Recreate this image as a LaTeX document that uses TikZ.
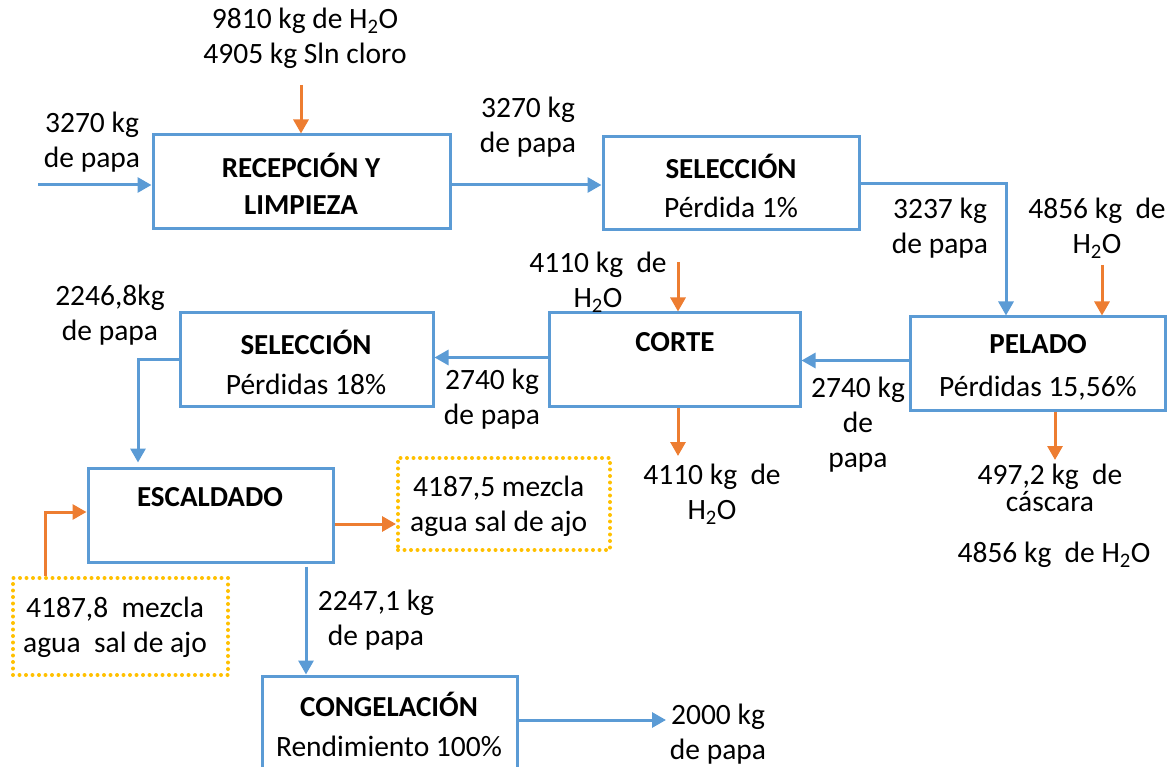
\documentclass[tikz,border=0pt]{standalone}
\usepackage{fontspec}
\setmainfont{Carlito}
\usetikzlibrary{arrows.meta}
\definecolor{cblue}{HTML}{5B9BD5}
\definecolor{corange}{HTML}{ED7D31}
\definecolor{cyellow}{HTML}{FFC000}
\begin{document}
\begin{tikzpicture}[x=1pt,y=-1pt,
  every node/.style={font=\fontsize{29.5}{35}\selectfont, inner sep=0pt},
  box/.style={draw=cblue, line width=3pt, rectangle},
  dotbox/.style={draw=cyellow, line width=4pt, line cap=round, dash pattern=on 0pt off 6.5pt, rectangle},
  lbl/.style={align=center},
  ttl/.style={font=\fontsize{29}{35}\selectfont\bfseries},
  barrow/.style={draw=cblue, line width=3pt, -{Triangle[length=14pt,width=15pt]}},
  oarrow/.style={draw=corange, line width=3pt, -{Triangle[length=14pt,width=15pt]}}]
\useasboundingbox (0,0) rectangle (1173,767);
\begin{scope}
\clip (0,0) rectangle (1173,767);
% boxes
\node[box, minimum width=297pt, minimum height=94pt] (rec) at (301.5,182) {};
\node[box, minimum width=256pt, minimum height=93pt] (sel1) at (731,183.5) {};
\node[box, minimum width=255pt, minimum height=93pt] (pel) at (1037.5,363.5) {};
\node[box, minimum width=251pt, minimum height=93pt] (cor) at (674.5,359.5) {};
\node[box, minimum width=253pt, minimum height=93pt] (sel2) at (306.5,359.5) {};
\node[box, minimum width=245pt, minimum height=94pt] (esc) at (210.5,515) {};
\node[box, minimum width=255pt, minimum height=100pt] (con) at (389.5,726) {};
\node[dotbox, minimum width=212pt, minimum height=92pt] (dot1) at (504,504) {};
\node[dotbox, minimum width=215pt, minimum height=97pt] (dot2) at (120.5,626.5) {};
\end{scope}
% box texts
\node[ttl] (t1) at (301,165) {RECEPCIÓN Y};
\node[ttl] (t2) at (301,205) {LIMPIEZA};
\node[ttl] (t3) at (731,166) {SELECCIÓN};
\node (t4) at (731,207) {Pérdida 1\%};
\node[ttl] (t5) at (1038,344) {PELADO};
\node (t6) at (1038,388) {Pérdidas 15,56\%};
\node[ttl] (t7) at (675,342) {CORTE};
\node[ttl] (t8) at (306,342) {SELECCIÓN};
\node (t9) at (306,384) {Pérdidas 18\%};
\node[ttl] (t10) at (210,497) {ESCALDADO};
\node[ttl] (t11) at (389,704) {CONGELACIÓN};
\node (t12) at (389,746) {Rendimiento 100\%};
\node[lbl, anchor=west] (t13) at (410,506) {4187,5 mezcla\\agua sal de ajo};
\node[lbl, anchor=west] (t14) at (23,627) {4187,8\ \ mezcla\\agua\ \ sal de ajo};
% labels
\node[lbl] (l1) at (305,38) {9810 kg de H\textsubscript{2}O\\4905 kg Sln cloro};
\node[lbl] (l2) at (92,142) {3270 kg\\de papa};
\node[lbl] (l3) at (528,127) {3270 kg\\de papa};
\node[lbl] (l4) at (940,228) {3237 kg\\de papa};
\node[lbl] (l5) at (1097,228) {4856 kg\ \ de\\H\textsubscript{2}O};
\node[lbl] (l6) at (598,282) {4110 kg\ \ de\\H\textsubscript{2}O};
\node[lbl] (l7) at (858,425) {2740 kg\\de\\papa};
\node[lbl] (l8) at (492,399) {2740 kg\\de papa};
\node[lbl] (l9) at (110,315) {2246,8kg\\de papa};
\node[lbl] (l10) at (712,494) {4110 kg\ \ de\\H\textsubscript{2}O};
\node[lbl, font=\fontsize{29.5}{27}\selectfont] (l11) at (1050,488) {497,2 kg\ \ de\\cáscara};
\node (l12) at (1054,555) {4856 kg\ \ de H\textsubscript{2}O};
\node[lbl] (l13) at (376,620) {2247,1 kg\\de papa};
\node[lbl] (l14) at (718,734) {2000 kg\\de papa};
% coordinates
\coordinate (in1) at (38,185);
\coordinate (o1) at (301,85);
\coordinate (o2) at (1102,265);
\coordinate (o3) at (678,262);
\coordinate (o4) at (678,456);
\coordinate (o5) at (1055,460);
\coordinate (out1) at (666,720);
% connectors
\draw[barrow] (in1) -- (in1 -| rec.west);
\draw[oarrow] (o1) -- (o1 |- rec.north);
\draw[barrow] ([yshift=-3pt]rec.east) -- ([yshift=-3pt]rec.east -| sel1.west);
\draw[barrow] (sel1.east) -| ([xshift=-31.5pt]pel.north);
\draw[oarrow] (o2) -- (o2 |- pel.north);
\draw[barrow] ([yshift=3pt]pel.west) -- ([yshift=3pt]pel.west -| cor.east);
\draw[oarrow] (o3) -- (o3 |- cor.north);
\draw[oarrow] (o3 |- cor.south) -- (o4);
\draw[oarrow] ([xshift=17.5pt]pel.south) -- (o5);
\draw[barrow] ([yshift=2pt]cor.west) -- ([yshift=2pt]cor.west -| sel2.east);
\draw[barrow, shorten >=4pt] (sel2.west) -| ([xshift=-72.5pt]esc.north);
\draw[oarrow] ([xshift=-75.5pt]dot2.north) |- ([yshift=3pt]esc.west);
\draw[oarrow] ([yshift=-9pt]esc.east) -- ([yshift=-9pt]esc.east -| dot1.west);
\draw[barrow] ([xshift=95.5pt,yshift=-3pt]esc.south) -- ([xshift=95.5pt]esc.south |- con.north);
\draw[barrow] (con.east |- out1) -- (out1);
\end{tikzpicture}
\end{document}
